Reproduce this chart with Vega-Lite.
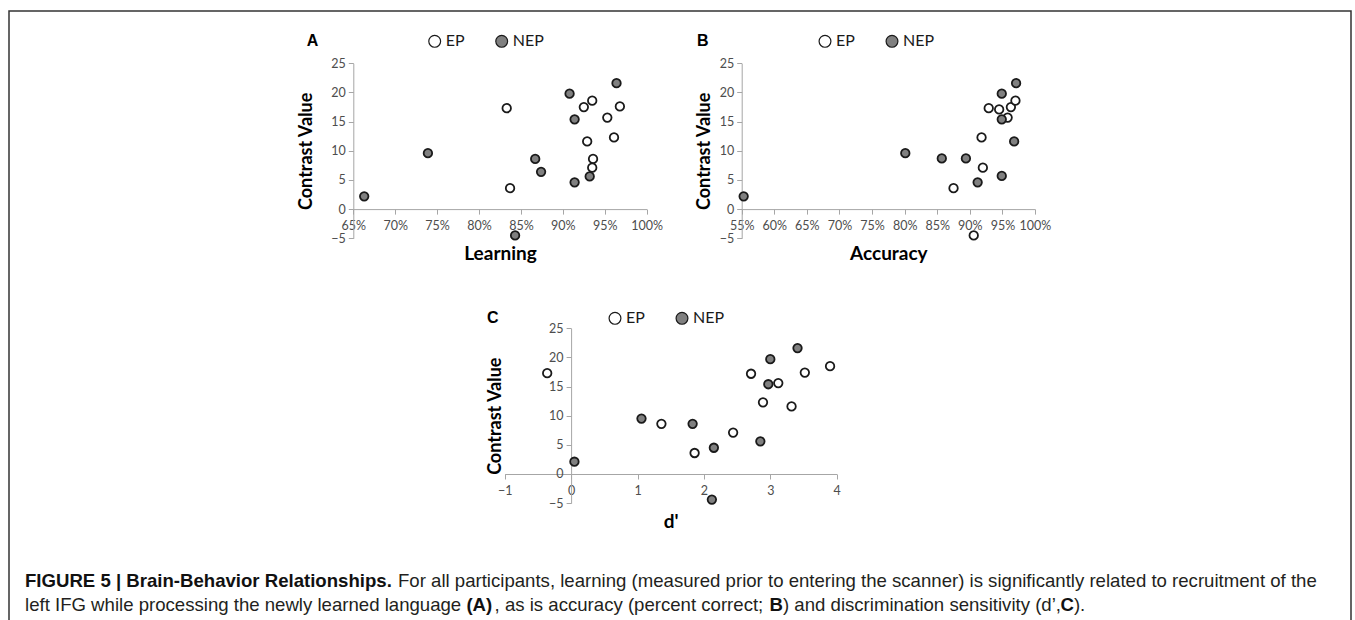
{
  "$schema": "https://vega.github.io/schema/vega-lite/v6.json",
  "width": 1342,
  "height": 609,
  "autosize": {"type": "none"},
  "padding": {"left": 9, "top": 11, "right": 4, "bottom": 0},
  "background": "white",
  "config": {
    "view": {"stroke": "#333333", "strokeWidth": 1.5, "strokeDash": [1951, 1342, 612]},
    "axis": {
      "grid": false,
      "labelFont": "Lato",
      "labelFontSize": 12.5,
      "labelColor": "#4d4d4d",
      "domainColor": "#a6a6a6",
      "tickColor": "#a6a6a6",
      "tickSize": 5,
      "labelPadding": 3,
      "labelFlush": false,
      "labelOverlap": false,
      "titleFont": "Lato",
      "titleFontWeight": "bold",
      "titleFontSize": 19,
      "titleColor": "#000000"
    },
    "axisBottom": {"labelPadding": 5},
    "legend": {
      "orient": "none",
      "direction": "horizontal",
      "titleOrient": "left",
      "titleFont": "Liberation Sans",
      "titleFontWeight": "bold",
      "titleFontSize": 16,
      "titleColor": "#000000",
      "titlePadding": 108,
      "labelFont": "Lato",
      "labelFontSize": 16,
      "labelColor": "#1a1a1a",
      "labelOffset": 3,
      "columnPadding": 28,
      "symbolType": "circle",
      "symbolSize": 140,
      "symbolStrokeColor": "#1a1a1a",
      "symbolStrokeWidth": 1.2
    }
  },
  "datasets": {
    "panelA": [
      {"learning": 0.833, "contrast": 17.3, "group": "EP"},
      {"learning": 0.837, "contrast": 3.6, "group": "EP"},
      {"learning": 0.925, "contrast": 17.5, "group": "EP"},
      {"learning": 0.935, "contrast": 18.6, "group": "EP"},
      {"learning": 0.968, "contrast": 17.6, "group": "EP"},
      {"learning": 0.953, "contrast": 15.7, "group": "EP"},
      {"learning": 0.929, "contrast": 11.6, "group": "EP"},
      {"learning": 0.961, "contrast": 12.3, "group": "EP"},
      {"learning": 0.936, "contrast": 8.6, "group": "EP"},
      {"learning": 0.935, "contrast": 7.1, "group": "EP"},
      {"learning": 0.663, "contrast": 2.2, "group": "NEP"},
      {"learning": 0.739, "contrast": 9.6, "group": "NEP"},
      {"learning": 0.908, "contrast": 19.8, "group": "NEP"},
      {"learning": 0.964, "contrast": 21.6, "group": "NEP"},
      {"learning": 0.914, "contrast": 15.4, "group": "NEP"},
      {"learning": 0.867, "contrast": 8.6, "group": "NEP"},
      {"learning": 0.874, "contrast": 6.4, "group": "NEP"},
      {"learning": 0.914, "contrast": 4.6, "group": "NEP"},
      {"learning": 0.932, "contrast": 5.6, "group": "NEP"},
      {"learning": 0.843, "contrast": -4.5, "group": "NEP"}
    ],
    "panelB": [
      {"accuracy": 0.875, "contrast": 3.6, "group": "EP"},
      {"accuracy": 0.920, "contrast": 7.1, "group": "EP"},
      {"accuracy": 0.918, "contrast": 12.3, "group": "EP"},
      {"accuracy": 0.929, "contrast": 17.3, "group": "EP"},
      {"accuracy": 0.945, "contrast": 17.1, "group": "EP"},
      {"accuracy": 0.963, "contrast": 17.5, "group": "EP"},
      {"accuracy": 0.970, "contrast": 18.6, "group": "EP"},
      {"accuracy": 0.958, "contrast": 15.7, "group": "EP"},
      {"accuracy": 0.906, "contrast": -4.5, "group": "EP"},
      {"accuracy": 0.553, "contrast": 2.2, "group": "NEP"},
      {"accuracy": 0.801, "contrast": 9.6, "group": "NEP"},
      {"accuracy": 0.857, "contrast": 8.7, "group": "NEP"},
      {"accuracy": 0.894, "contrast": 8.7, "group": "NEP"},
      {"accuracy": 0.912, "contrast": 4.6, "group": "NEP"},
      {"accuracy": 0.949, "contrast": 5.7, "group": "NEP"},
      {"accuracy": 0.949, "contrast": 19.8, "group": "NEP"},
      {"accuracy": 0.971, "contrast": 21.6, "group": "NEP"},
      {"accuracy": 0.949, "contrast": 15.4, "group": "NEP"},
      {"accuracy": 0.968, "contrast": 11.6, "group": "NEP"}
    ],
    "panelC": [
      {"dprime": -0.36, "contrast": 17.3, "group": "EP"},
      {"dprime": 1.36, "contrast": 8.6, "group": "EP"},
      {"dprime": 1.86, "contrast": 3.6, "group": "EP"},
      {"dprime": 2.44, "contrast": 7.1, "group": "EP"},
      {"dprime": 2.71, "contrast": 17.2, "group": "EP"},
      {"dprime": 2.89, "contrast": 12.3, "group": "EP"},
      {"dprime": 3.12, "contrast": 15.6, "group": "EP"},
      {"dprime": 3.32, "contrast": 11.6, "group": "EP"},
      {"dprime": 3.52, "contrast": 17.4, "group": "EP"},
      {"dprime": 3.90, "contrast": 18.5, "group": "EP"},
      {"dprime": 0.05, "contrast": 2.1, "group": "NEP"},
      {"dprime": 1.06, "contrast": 9.5, "group": "NEP"},
      {"dprime": 1.83, "contrast": 8.6, "group": "NEP"},
      {"dprime": 2.15, "contrast": 4.5, "group": "NEP"},
      {"dprime": 2.12, "contrast": -4.4, "group": "NEP"},
      {"dprime": 2.85, "contrast": 5.6, "group": "NEP"},
      {"dprime": 2.97, "contrast": 15.4, "group": "NEP"},
      {"dprime": 3.00, "contrast": 19.7, "group": "NEP"},
      {"dprime": 3.41, "contrast": 21.6, "group": "NEP"}
    ]
  },
  "resolve": {
    "scale": {"x": "independent", "y": "independent", "fill": "independent"},
    "axis": {"x": "independent", "y": "independent"},
    "legend": {"fill": "independent"}
  },
  "layer": [
    {
      "data": {"name": "panelA"},
      "mark": {"type": "point", "shape": "circle", "filled": true, "size": 72, "stroke": "#1a1a1a", "strokeWidth": 1.8, "opacity": 1},
      "encoding": {
        "x": {"field": "learning", "type": "quantitative",
          "scale": {"domain": [0.65, 1.0], "range": [344.3, 637.7], "nice": false, "zero": false},
          "axis": {"orient": "bottom", "offset": -410.9, "values": [0.65, 0.7, 0.75, 0.8, 0.85, 0.9, 0.95, 1.0], "format": ".0%", "title": "Learning", "titlePadding": 13}},
        "y": {"field": "contrast", "type": "quantitative",
          "scale": {"domain": [-5, 25], "range": [227.3, 52.3], "nice": false, "zero": false},
          "axis": {"orient": "left", "offset": -344.3, "values": [-5, 0, 5, 10, 15, 20, 25], "title": "Contrast Value", "titlePadding": 15, "titleFontSize": 18}},
        "fill": {"field": "group", "type": "nominal",
          "scale": {"domain": ["EP", "NEP"], "range": ["#ffffff", "#808080"]},
          "legend": {"title": "A", "legendX": 297.7, "legendY": 22}}
      }
    },
    {
      "data": {"name": "panelB"},
      "mark": {"type": "point", "shape": "circle", "filled": true, "size": 72, "stroke": "#1a1a1a", "strokeWidth": 1.8, "opacity": 1},
      "encoding": {
        "x": {"field": "accuracy", "type": "quantitative",
          "scale": {"domain": [0.55, 1.0], "range": [732.7, 1026], "nice": false, "zero": false},
          "axis": {"orient": "bottom", "offset": -410.9, "values": [0.55, 0.6, 0.65, 0.7, 0.75, 0.8, 0.85, 0.9, 0.95, 1.0], "format": ".0%", "title": "Accuracy", "titlePadding": 13}},
        "y": {"field": "contrast", "type": "quantitative",
          "scale": {"domain": [-5, 25], "range": [227.3, 52.3], "nice": false, "zero": false},
          "axis": {"orient": "left", "offset": -732.7, "values": [-5, 0, 5, 10, 15, 20, 25], "title": "Contrast Value", "titlePadding": 6, "titleFontSize": 18}},
        "fill": {"field": "group", "type": "nominal",
          "scale": {"domain": ["EP", "NEP"], "range": ["#ffffff", "#808080"]},
          "legend": {"title": "B", "legendX": 688, "legendY": 22}}
      }
    },
    {
      "data": {"name": "panelC"},
      "mark": {"type": "point", "shape": "circle", "filled": true, "size": 72, "stroke": "#1a1a1a", "strokeWidth": 1.8, "opacity": 1},
      "encoding": {
        "x": {"field": "dprime", "type": "quantitative",
          "scale": {"domain": [-1, 4], "range": [495.7, 827.7], "nice": false, "zero": false},
          "axis": {"orient": "bottom", "offset": -146, "values": [-1, 0, 1, 2, 3, 4], "format": "d", "title": "d'", "titlePadding": 16}},
        "y": {"field": "contrast", "type": "quantitative",
          "scale": {"domain": [-5, 25], "range": [492.1, 317.3], "nice": false, "zero": false},
          "axis": {"orient": "left", "offset": -562.1, "values": [-5, 0, 5, 10, 15, 20, 25], "title": "Contrast Value", "titlePadding": 44, "titleFontSize": 18}},
        "fill": {"field": "group", "type": "nominal",
          "scale": {"domain": ["EP", "NEP"], "range": ["#ffffff", "#808080"]},
          "legend": {"title": "C", "legendX": 478, "legendY": 299}}
      }
    },
    {
      "data": {"values": [{"caption": "FIGURE 5 | Brain-Behavior Relationships."}]},
      "mark": {"type": "text", "align": "left", "baseline": "alphabetic", "font": "Liberation Sans", "fontSize": 18.6, "fontWeight": "bold", "color": "#111111"},
      "encoding": {"text": {"field": "caption"}, "x": {"value": 16}, "y": {"value": 576}}
    },
    {
      "data": {"values": [{"caption": "For all participants, learning (measured prior to entering the scanner) is significantly related to recruitment of the"}]},
      "mark": {"type": "text", "align": "left", "baseline": "alphabetic", "font": "Liberation Sans", "fontSize": 18.6, "fontWeight": "normal", "color": "#231f20"},
      "encoding": {"text": {"field": "caption"}, "x": {"value": 389}, "y": {"value": 576}}
    },
    {
      "data": {"values": [{"caption": "left IFG while processing the newly learned language"}]},
      "mark": {"type": "text", "align": "left", "baseline": "alphabetic", "font": "Liberation Sans", "fontSize": 18.6, "fontWeight": "normal", "color": "#231f20"},
      "encoding": {"text": {"field": "caption"}, "x": {"value": 16}, "y": {"value": 599.7}}
    },
    {
      "data": {"values": [{"caption": "(A)"}]},
      "mark": {"type": "text", "align": "left", "baseline": "alphabetic", "font": "Liberation Sans", "fontSize": 18.6, "fontWeight": "bold", "color": "#111111"},
      "encoding": {"text": {"field": "caption"}, "x": {"value": 457.4}, "y": {"value": 599.7}}
    },
    {
      "data": {"values": [{"caption": ", as is accuracy (percent correct;"}]},
      "mark": {"type": "text", "align": "left", "baseline": "alphabetic", "font": "Liberation Sans", "fontSize": 18.6, "fontWeight": "normal", "color": "#231f20"},
      "encoding": {"text": {"field": "caption"}, "x": {"value": 485.6}, "y": {"value": 599.7}}
    },
    {
      "data": {"values": [{"caption": "B"}]},
      "mark": {"type": "text", "align": "left", "baseline": "alphabetic", "font": "Liberation Sans", "fontSize": 18.6, "fontWeight": "bold", "color": "#111111"},
      "encoding": {"text": {"field": "caption"}, "x": {"value": 760.5}, "y": {"value": 599.7}}
    },
    {
      "data": {"values": [{"caption": ") and discrimination sensitivity (d’,"}]},
      "mark": {"type": "text", "align": "left", "baseline": "alphabetic", "font": "Liberation Sans", "fontSize": 18.6, "fontWeight": "normal", "color": "#231f20"},
      "encoding": {"text": {"field": "caption"}, "x": {"value": 774}, "y": {"value": 599.7}}
    },
    {
      "data": {"values": [{"caption": "C"}]},
      "mark": {"type": "text", "align": "left", "baseline": "alphabetic", "font": "Liberation Sans", "fontSize": 18.6, "fontWeight": "bold", "color": "#111111"},
      "encoding": {"text": {"field": "caption"}, "x": {"value": 1051.5}, "y": {"value": 599.7}}
    },
    {
      "data": {"values": [{"caption": ")."}]},
      "mark": {"type": "text", "align": "left", "baseline": "alphabetic", "font": "Liberation Sans", "fontSize": 18.6, "fontWeight": "normal", "color": "#231f20"},
      "encoding": {"text": {"field": "caption"}, "x": {"value": 1064.9}, "y": {"value": 599.7}}
    }
  ]
}
